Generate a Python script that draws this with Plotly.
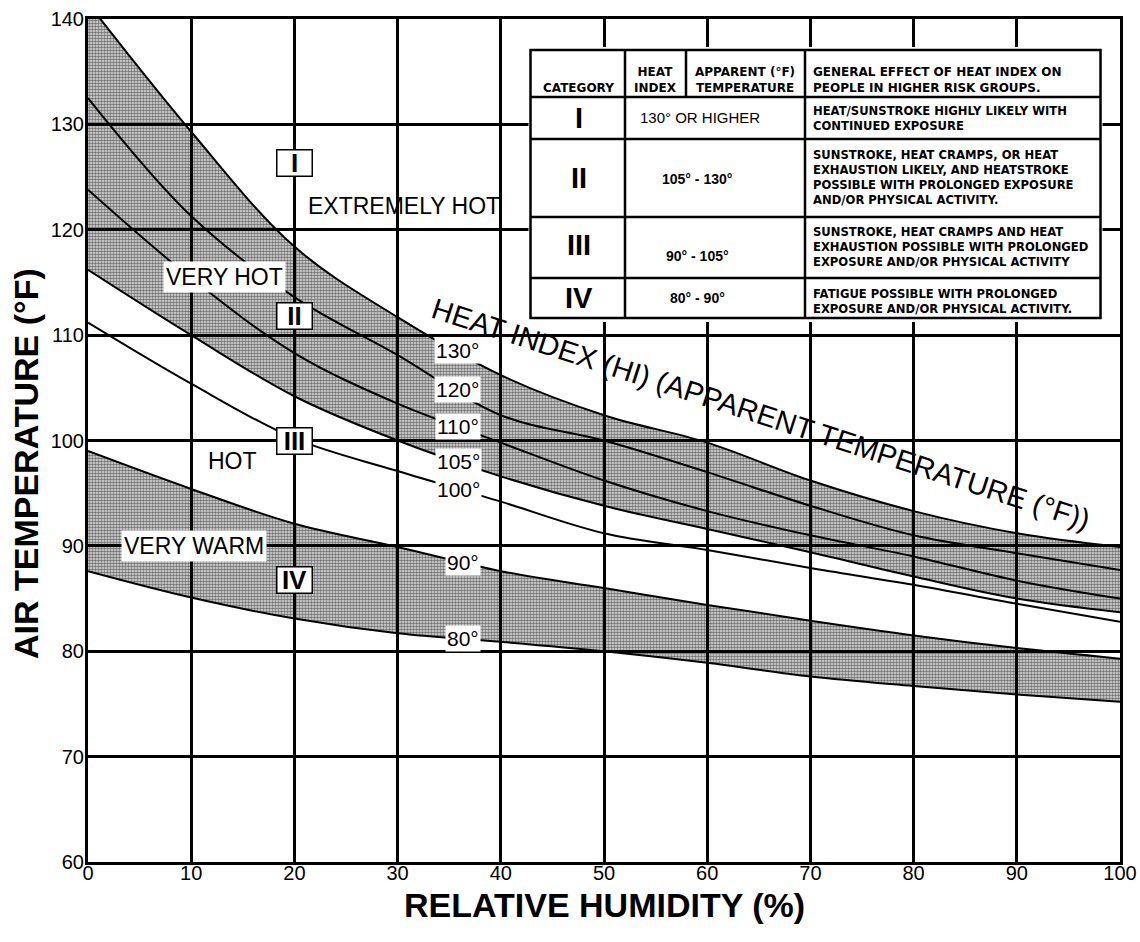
import numpy as np
import plotly.graph_objects as go

# ---- data -------------------------------------------------------------
relative_humidity = [0, 10, 20, 30, 40, 50, 60, 70, 80, 90, 100]
heat_index_levels = [130, 120, 110, 105, 100, 90, 80]

# air temperature (deg F) giving each heat index, at each relative humidity
air_temp_hi130 = [141.5, 129.3, 118.4, 111.7, 106.2, 102.4, 99.8, 96.2, 93.3, 91.2, 89.9]
air_temp_hi120 = [132.5, 121.3, 113.6, 108.1, 102.4, 100.0, 97.0, 93.8, 91.0, 89.3, 87.7]
air_temp_hi110 = [123.8, 115.4, 108.3, 103.5, 99.8, 96.2, 93.3, 91.0, 89.0, 86.7, 85.0]
air_temp_hi105 = [116.2, 110.0, 104.2, 100.0, 96.6, 93.8, 91.6, 89.4, 87.1, 85.0, 83.7]
air_temp_hi100 = [111.2, 105.4, 100.2, 97.1, 94.2, 91.2, 89.6, 87.9, 86.3, 84.5, 82.8]
air_temp_hi90 = [99.0, 95.4, 92.1, 89.9, 87.6, 86.0, 84.4, 82.9, 81.5, 80.3, 79.3]
air_temp_hi80 = [87.6, 85.1, 83.1, 81.7, 80.9, 80.0, 78.9, 77.6, 76.7, 75.9, 75.2]

curves = dict(zip(heat_index_levels, [air_temp_hi130, air_temp_hi120, air_temp_hi110,
                                       air_temp_hi105, air_temp_hi100, air_temp_hi90,
                                       air_temp_hi80]))

region_names = ["EXTREMELY HOT", "VERY HOT", "HOT", "VERY WARM"]
categories = ["I", "II", "III", "IV"]
category_ranges = ["130° OR HIGHER", "105° - 130°", "90° - 105°", "80° - 90°"]
category_effects = [
    "HEAT/SUNSTROKE HIGHLY LIKELY WITH<br>CONTINUED EXPOSURE",
    "SUNSTROKE, HEAT CRAMPS, OR HEAT<br>EXHAUSTION LIKELY, AND HEATSTROKE<br>"
    "POSSIBLE WITH PROLONGED EXPOSURE<br>AND/OR PHYSICAL ACTIVITY.",
    "SUNSTROKE, HEAT CRAMPS AND HEAT<br>EXHAUSTION POSSIBLE WITH PROLONGED<br>"
    "EXPOSURE AND/OR PHYSICAL ACTIVITY",
    "FATIGUE POSSIBLE WITH PROLONGED<br>EXPOSURE AND/OR PHYSICAL ACTIVITY.",
]
x_ticks = [0, 10, 20, 30, 40, 50, 60, 70, 80, 90, 100]
y_ticks = [60, 70, 80, 90, 100, 110, 120, 130, 140]

# ---- page geometry ----------------------------------------------------
W, H = 1140, 942
L, R, T, B = 88, 1120, 19, 862
FONT = "Liberation Sans, Arial, sans-serif"
TABLE_FONT = "DejaVu Sans, sans-serif"


def fx(px):
    return (px - L) / (R - L)


def fy(py):
    return (B - py) / (B - T)


fig = go.Figure()

stipple = dict(shape=".", fgcolor="black", bgcolor="rgba(0,0,0,0.12)",
               size=3, solidity=0.55)

# shaded bands: 105-130 (category II) and 80-90 (category IV)
for lower, upper in [(105, 130), (80, 90)]:
    fig.add_trace(go.Scatter(x=relative_humidity, y=curves[lower], mode="lines",
                             line=dict(width=0, shape="spline", color="rgba(0,0,0,0)"),
                             hoverinfo="skip", showlegend=False))
    fig.add_trace(go.Scatter(x=relative_humidity, y=curves[upper], mode="lines",
                             line=dict(width=0, shape="spline", color="rgba(0,0,0,0)"),
                             fill="tonexty", fillcolor="rgba(0,0,0,0)",
                             fillpattern=stipple, hoverinfo="skip", showlegend=False))

# heat-index curves
for level in heat_index_levels:
    fig.add_trace(go.Scatter(x=relative_humidity, y=curves[level], mode="lines",
                             line=dict(color="black", width=2, shape="spline"),
                             name=f"{level}°", showlegend=False))

annotations = []

# curve labels
label_rh = {130: 35.8, 120: 35.8, 110: 35.9, 105: 35.9, 100: 35.9, 90: 36.3, 80: 36.3}
for level in heat_index_levels:
    xr = label_rh[level]
    yv = float(np.interp(xr, relative_humidity, curves[level]))
    annotations.append(dict(x=xr, y=yv, xref="x", yref="y", text=f"{level}°",
                            showarrow=False, bgcolor="white", borderpad=1,
                            font=dict(family=FONT, size=21, color="black")))

# region names
region_pos = [(30.6, 122.3, False), (13.2, 115.5, True), (14.0, 98.1, False), (10.3, 90.0, True)]
for name, (xr, yv, bg) in zip(region_names, region_pos):
    annotations.append(dict(x=xr, y=yv, xref="x", yref="y", text=name, showarrow=False,
                            bgcolor="white" if bg else None, borderpad=2,
                            font=dict(family=FONT, size=23, color="black")))

# category boxes on the chart
cat_pos = [(20, 126.3), (20, 111.8), (20, 100.0), (20, 86.8)]
for cat, (xr, yv) in zip(categories, cat_pos):
    annotations.append(dict(x=xr, y=yv, xref="x", yref="y", text=f"<b>{cat}</b>",
                            showarrow=False, bgcolor="white", bordercolor="black",
                            borderwidth=1.5, borderpad=0, width=34, height=25,
                            font=dict(family=FONT, size=26, color="black")))

# long rotated caption
annotations.append(dict(x=65.2, y=102.5, xref="x", yref="y",
                        text="HEAT INDEX (HI) (APPARENT TEMPERATURE (°F))",
                        textangle=18, showarrow=False,
                        font=dict(family=FONT, size=29, color="black")))

# axis titles
annotations.append(dict(x=fx(604), y=fy(905), xref="paper", yref="paper",
                        xanchor="center", yanchor="middle",
                        text="<b>RELATIVE HUMIDITY (%)</b>", showarrow=False,
                        font=dict(family=FONT, size=34, color="black")))
annotations.append(dict(x=fx(26), y=fy(464), xref="paper", yref="paper",
                        xanchor="center", yanchor="middle",
                        text="<b>AIR TEMPERATURE (°F)</b>", textangle=-90, showarrow=False,
                        font=dict(family=FONT, size=34, color="black")))

# ---- category table ----------------------------------------------------
shapes = []
tx0, tx1, ty0, ty1 = 530.5, 1100.5, 50, 318
col1, col2, col3 = 625, 686, 805
row_lines = [97, 139, 217, 278]

shapes.append(dict(type="rect", xref="paper", yref="paper", layer="above",
                   x0=fx(tx0 - 2), x1=fx(tx1 + 2), y0=fy(ty0 - 3), y1=fy(ty1 + 4),
                   fillcolor="white", line=dict(width=0)))
shapes.append(dict(type="rect", xref="paper", yref="paper", layer="above",
                   x0=fx(tx0), x1=fx(tx1), y0=fy(ty0), y1=fy(ty1),
                   fillcolor="rgba(0,0,0,0)", line=dict(color="black", width=2.5)))
for ry in row_lines:
    shapes.append(dict(type="line", xref="paper", yref="paper", layer="above",
                       x0=fx(tx0), x1=fx(tx1), y0=fy(ry), y1=fy(ry),
                       line=dict(color="black", width=2.5)))
for cx in (col1, col3):
    shapes.append(dict(type="line", xref="paper", yref="paper", layer="above",
                       x0=fx(cx), x1=fx(cx), y0=fy(ty0), y1=fy(ty1),
                       line=dict(color="black", width=2.5)))
shapes.append(dict(type="line", xref="paper", yref="paper", layer="above",
                   x0=fx(col2), x1=fx(col2), y0=fy(ty0), y1=fy(row_lines[0]),
                   line=dict(color="black", width=2.5)))


def table_text(px, py, text, size, xanchor="center", family=TABLE_FONT, bold=True):
    annotations.append(dict(x=fx(px), y=fy(py), xref="paper", yref="paper",
                            text=f"<b>{text}</b>" if bold else text, showarrow=False,
                            xanchor=xanchor, yanchor="middle",
                            align="left" if xanchor == "left" else "center",
                            font=dict(family=family, size=size, color="black")))


table_text(578, 88, "CATEGORY", 12)
table_text(655, 80, "HEAT<br>INDEX", 12)
table_text(745, 80, "APPARENT (°F)<br>TEMPERATURE", 12)
table_text(811, 80, "GENERAL EFFECT OF HEAT INDEX ON<br>PEOPLE IN HIGHER RISK GROUPS.", 12, "left")

cat_rows = [118, 178, 245, 298]
range_rows = [118, 179, 256, 298]
effect_rows = [119, 178, 247, 301]
for cat, cy in zip(categories, cat_rows):
    table_text(579, cy, cat, 29, family=FONT)
for i, (rng, ry) in enumerate(zip(category_ranges, range_rows)):
    table_text(700 if i == 0 else 697, ry, rng, 15 if i == 0 else 14, family=FONT, bold=i != 0)
for eff, ey in zip(category_effects, effect_rows):
    table_text(811, ey, eff, 11.6, "left")

axis_common = dict(showgrid=True, gridcolor="black", gridwidth=3, showline=True,
                   linecolor="black", linewidth=3, mirror=True, zeroline=False,
                   ticks="", tickfont=dict(family=FONT, size=20, color="black"))

fig.update_layout(
    width=W, height=H,
    margin=dict(l=L, r=W - R, t=T, b=H - B, autoexpand=False),
    paper_bgcolor="white", plot_bgcolor="white",
    xaxis=dict(range=[0, 100], tickvals=x_ticks, ticklabelstandoff=-9, **axis_common),
    yaxis=dict(range=[60, 140], tickvals=y_ticks, ticklabelstandoff=-3, **axis_common),
    annotations=annotations,
    shapes=shapes,
    showlegend=False,
)

fig.write_html("out.html")
